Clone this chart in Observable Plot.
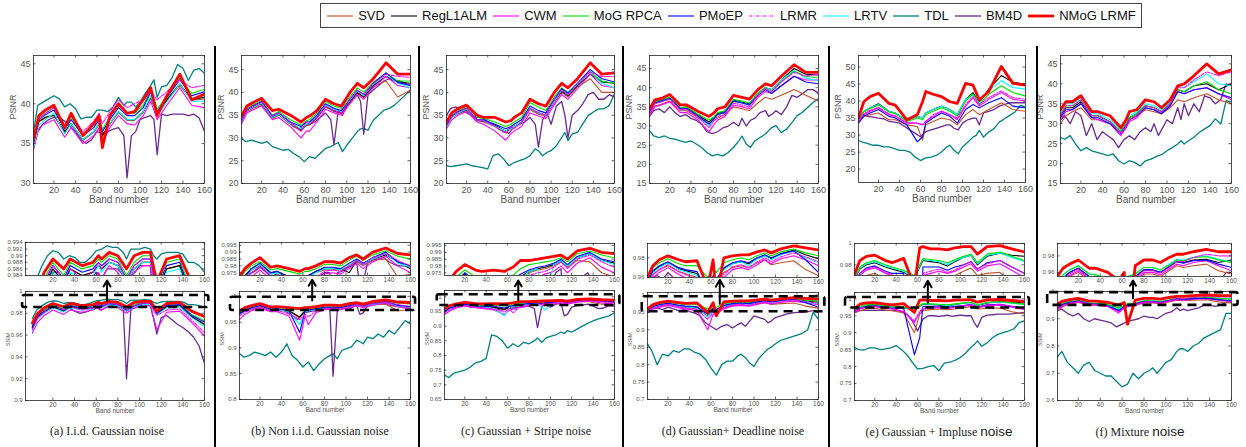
<!DOCTYPE html>
<html><head><meta charset="utf-8">
<script src="https://cdn.jsdelivr.net/npm/d3@7"></script>
<script src="https://cdn.jsdelivr.net/npm/@observablehq/plot@0.6"></script>
<style>
html,body{margin:0;padding:0;background:#fff;}
#root{position:relative;width:1246px;height:447px;overflow:hidden;background:#fff;font-family:"Liberation Sans",Arial,sans-serif;}
.sep{position:absolute;width:2px;background:#000;}
.cap{position:absolute;font-family:"Liberation Serif","DejaVu Serif",serif;font-size:12px;color:#222;white-space:nowrap;transform:translateX(-50%);}
.cap .big{font-family:"Liberation Sans",Arial,sans-serif;font-size:13.5px;}
#legend{position:absolute;border:1px solid #444;display:flex;justify-content:space-evenly;align-items:center;font-family:"Liberation Sans",Arial,sans-serif;font-size:13px;color:#111;}
#legend .it{display:flex;align-items:center;gap:4px;white-space:nowrap;}
</style></head>
<body><div id="root"><div id="legend"></div></div>
<script>
// ---------------- data ----------------
const bands = [1,6,12,20,30,36,47,57,62,65,72,80,88,95,103,110,116,125,137,148,160];
// TDL and BM4D are read at a denser set of bands (they are the most jagged curves)
const bandsDense = [1,5,10,15,20,25,30,35,40,45,50,55,60,65,70,75,80,85,88,92,96,100,105,110,113,116,120,125,130,135,140,145,150,155,160];
const methods = ["SVD","RegL1ALM","CWM","MoG RPCA","PMoEP","LRMR","LRTV","TDL","BM4D","NMoG LRMF"];
const captions = [["(a) I.i.d. Gaussian noise",""],["(b) Non i.i.d. Gaussian noise",""],["(c)  Gaussian + Stripe noise",""],["(d) Gaussian+ Deadline noise",""],["(e) Gaussian + Impluse ","noise"],["(f) Mixture ","noise"]];
const xTicks = [20,40,60,80,100,120,140,160];

// rows in method order: SVD, RegL1ALM, CWM, MoG RPCA, PMoEP, LRMR, LRTV, TDL*, BM4D*, NMoG LRMF   (* = bandsDense)
const psnrA = [
 [34.8,37.7,38.2,38.5,36.4,37.4,35.4,36.4,37.4,35.8,37.4,38.9,37.9,37.9,38.9,40.7,38.7,40.4,42.3,40.4,40.6],
 [34.8,37.8,38.3,38.6,36.5,37.5,35.5,36.5,37.5,36.0,37.5,39.0,38.0,38.0,39.0,40.8,38.8,40.5,42.5,40.5,40.8],
 [34.2,37.0,37.5,38.0,35.8,37.0,35.0,36.0,37.0,35.0,37.0,38.5,37.5,37.3,38.5,40.3,38.0,39.8,42.0,39.8,39.5],
 [35.2,38.2,38.8,39.5,37.0,38.3,36.2,37.3,38.3,36.8,38.3,39.8,38.8,38.8,39.8,41.7,39.3,41.0,43.2,41.3,41.8],
 [35.0,38.0,38.6,39.2,36.8,38.0,36.0,37.0,38.0,36.5,38.0,39.5,38.5,38.5,39.5,41.5,39.0,40.8,43.0,41.0,41.5],
 [35.0,38.0,38.8,39.5,37.3,38.5,36.5,37.8,38.8,37.5,39.0,40.5,39.5,40.0,40.5,41.5,40.5,41.5,43.0,42.0,42.3],
 [34.5,37.3,38.0,38.8,36.2,37.5,35.5,36.5,37.5,35.5,37.5,39.0,38.0,38.0,39.0,41.0,38.5,40.2,42.5,40.3,40.3],
 [36.5,39.8,40.2,40.6,41.0,40.6,39.6,40.0,39.4,38.1,38.3,38.3,39.2,39.2,39.0,39.6,40.8,39.8,40.2,40.2,39.6,40.2,41.3,42.3,43.0,40.8,42.1,42.3,43.3,44.9,44.4,42.9,44.2,44.4,43.8],
 [34.5,36.5,37.5,38.0,38.3,38.3,37.8,37.2,36.5,35.5,35.0,35.5,36.5,36.3,36.5,36.8,37.0,36.0,30.7,36.0,36.5,38.0,38.3,38.5,38.0,33.6,38.7,38.5,38.7,38.7,38.7,38.5,38.7,38.2,36.5],
 [35.5,38.5,39.2,39.8,37.0,38.8,36.0,37.5,38.5,34.5,38.5,40.0,38.8,39.0,40.5,42.0,38.5,41.0,43.7,40.5,41.2]];
const psnrB = [
 [33.5,35.8,36.5,37.2,34.2,35.0,33.0,31.5,32.8,32.8,34.3,36.8,35.8,35.3,37.8,39.8,38.8,41.3,42.5,39.0,40.5],
 [33.7,36.0,36.8,37.5,34.5,35.2,33.3,31.8,33.0,33.0,34.5,37.0,36.0,35.5,38.0,40.0,39.0,41.5,43.5,42.3,42.0],
 [33.0,35.5,36.2,37.0,34.0,34.5,32.5,30.0,31.5,31.5,33.5,36.3,35.5,35.0,37.5,39.5,38.5,41.0,43.5,41.5,41.0],
 [34.0,36.5,37.3,38.2,35.0,35.8,34.0,32.8,33.8,34.0,35.5,38.0,37.0,36.5,39.0,41.0,40.0,42.3,44.2,42.5,42.5],
 [33.8,36.2,37.0,38.0,34.8,35.5,33.5,32.5,33.5,33.5,35.0,37.5,36.5,36.0,38.5,40.5,39.5,42.0,44.3,42.2,41.5],
 [33.8,36.2,37.0,37.8,34.8,35.5,33.5,31.5,33.5,33.0,34.5,37.0,36.0,35.5,38.5,40.5,39.5,42.0,44.0,43.5,43.3],
 [33.5,36.0,36.8,37.6,34.5,35.2,33.2,32.0,33.0,33.2,34.8,37.2,36.3,35.8,38.3,40.3,39.3,41.8,44.0,42.0,41.0],
 [29.9,29.2,29.5,29.2,28.8,29.2,28.1,27.7,27.3,27.5,26.6,25.9,24.8,25.9,25.5,26.6,27.7,28.1,28.5,29.0,27.0,28.4,29.9,31.4,32.0,32.1,31.7,33.9,35.0,36.1,36.5,37.2,38.3,39.4,40.5],
 [34.0,36.0,37.0,37.3,37.5,36.0,34.5,35.3,34.5,33.5,32.5,32.0,32.5,33.0,33.5,34.5,35.5,34.0,28.5,36.0,35.0,37.0,38.5,39.5,38.0,30.8,39.5,40.5,41.5,42.5,43.0,42.5,42.5,42.0,41.5],
 [34.8,37.0,37.8,38.7,36.0,36.3,35.0,33.5,34.5,34.8,36.0,38.5,37.5,37.0,40.0,42.0,41.0,43.0,46.5,44.0,44.0]];
const psnrC = [
 [32.5,34.5,35.3,36.0,33.8,33.5,32.5,31.2,32.0,32.3,33.3,36.2,35.2,34.8,37.8,40.0,39.0,41.2,43.0,40.0,40.0],
 [32.8,34.7,35.5,36.2,34.0,33.7,32.8,31.5,32.2,32.5,33.5,36.5,35.5,35.0,38.0,40.2,39.3,41.5,44.0,42.3,42.0],
 [32.0,34.0,35.0,35.8,33.5,33.0,31.5,29.5,31.0,31.5,32.5,35.5,34.8,34.3,37.3,39.5,38.5,40.8,44.0,41.5,41.0],
 [33.0,35.0,36.0,36.8,34.5,34.3,33.5,32.5,33.0,33.5,34.5,37.8,36.8,36.0,39.0,41.0,40.0,42.0,44.5,42.5,42.0],
 [32.8,34.8,35.8,36.5,34.0,34.0,33.0,32.0,32.5,33.0,34.0,37.0,36.0,35.5,38.5,40.8,39.8,42.0,45.0,43.0,42.3],
 [33.0,34.8,35.7,36.5,34.0,33.8,32.5,31.0,32.5,32.0,33.5,36.5,35.5,35.0,38.3,40.5,39.5,42.0,44.5,43.5,43.5],
 [32.5,34.5,35.5,36.3,34.0,33.8,32.5,31.5,32.0,32.5,33.5,36.5,35.5,35.0,38.0,40.5,39.5,41.8,44.5,42.0,41.0],
 [23.9,23.7,23.9,24.1,24.3,23.9,23.7,23.5,23.2,26.1,26.5,25.4,23.9,24.6,25.0,25.4,26.1,27.6,27.2,26.1,26.8,27.2,28.3,30.1,31.2,29.4,30.9,31.2,33.1,34.9,35.7,36.4,36.4,37.1,39.7],
 [35.0,36.5,36.8,36.0,35.5,35.0,34.5,34.5,33.5,33.0,32.0,31.5,31.0,32.5,33.0,33.5,34.5,33.0,28.0,34.0,35.5,33.0,37.0,38.0,35.0,30.0,35.0,36.0,37.5,39.5,40.0,38.5,38.5,39.5,39.0],
 [33.5,35.5,36.5,37.2,35.0,34.5,34.5,33.5,33.8,34.5,35.5,38.5,37.5,37.0,40.0,42.0,41.0,43.0,46.5,44.0,44.3]];
const psnrD = [
 [33.0,35.2,35.7,36.5,34.0,34.0,32.0,30.5,31.5,32.0,33.0,35.0,34.5,34.0,36.0,37.5,37.0,38.0,39.5,38.0,36.5],
 [33.8,36.2,36.7,37.3,34.7,34.7,32.8,31.0,32.3,33.2,33.8,36.8,36.2,35.8,38.5,40.0,39.5,42.0,45.0,43.5,43.3],
 [32.8,35.0,35.5,36.3,33.5,33.5,31.5,28.5,30.5,31.5,32.5,35.5,35.0,34.5,37.5,39.0,38.5,40.5,43.0,42.0,42.0],
 [34.0,36.3,36.8,37.5,34.8,35.0,33.0,31.5,32.5,33.5,34.0,37.0,36.5,36.0,38.5,40.0,39.0,41.5,44.3,43.0,42.5],
 [33.5,36.0,36.5,37.2,34.5,34.5,32.5,30.5,32.0,33.0,33.5,36.5,36.0,35.5,38.0,39.5,38.5,40.5,43.0,41.5,41.0],
 [33.5,35.8,36.3,37.0,34.3,34.3,32.3,29.5,31.5,32.5,33.0,36.0,35.5,35.0,38.0,39.8,39.0,41.5,44.0,43.0,43.5],
 [33.5,36.0,36.5,37.2,34.5,34.5,32.5,30.0,32.0,33.0,33.5,36.5,36.0,35.5,38.5,40.0,39.5,42.0,44.5,42.5,41.8],
 [28.8,27.4,27.0,27.4,26.8,26.6,26.1,25.7,26.1,25.3,24.4,23.1,22.2,22.6,22.2,23.1,24.4,26.1,27.4,25.3,24.4,26.1,27.0,27.9,28.8,29.6,30.1,28.3,29.2,30.9,32.7,33.6,34.9,36.2,37.1],
 [32.5,34.0,34.5,33.5,35.0,33.5,32.5,33.0,32.0,31.5,30.5,28.5,28.0,28.5,29.5,30.0,31.0,30.0,32.0,30.0,31.5,32.0,33.5,34.0,32.5,33.0,34.0,33.0,35.0,38.0,37.5,38.5,39.5,39.5,38.5],
 [34.5,36.8,37.2,38.2,35.5,35.5,33.8,32.5,33.5,34.5,35.0,38.0,37.5,37.0,39.5,41.0,40.5,43.0,46.0,44.0,44.0]];
const psnrE = [
 [34.0,35.5,36.0,36.5,34.5,34.5,33.0,32.5,28.5,33.0,34.0,35.0,34.5,33.0,36.0,37.5,36.0,37.5,39.5,37.5,37.0],
 [34.5,37.0,38.0,39.2,37.0,36.5,34.3,35.5,35.0,36.5,37.5,38.5,37.5,36.0,40.5,42.5,39.5,43.5,47.5,45.5,45.0],
 [33.8,36.0,37.0,38.0,36.0,35.5,33.5,33.5,33.0,34.0,35.5,37.0,36.0,34.5,38.5,41.0,38.5,40.5,42.5,40.5,40.0],
 [34.3,36.8,37.8,38.8,36.8,36.3,34.0,35.0,34.5,36.0,37.0,38.0,37.0,35.5,40.0,42.0,39.0,42.0,44.5,42.5,41.5],
 [33.5,35.5,36.5,37.5,35.5,35.0,33.0,28.0,29.5,33.5,35.0,36.5,35.5,33.5,37.5,39.0,38.0,39.5,41.0,38.5,38.0],
 [34.0,36.3,37.3,38.2,36.2,35.7,33.7,33.5,33.0,34.0,36.0,37.0,36.0,35.0,39.0,41.3,39.0,41.0,43.0,41.0,40.5],
 [34.5,37.0,38.0,39.0,37.0,36.5,34.3,35.5,35.0,36.5,37.5,38.5,37.5,36.0,40.5,42.0,39.5,43.0,46.0,44.0,43.5],
 [28.4,27.9,27.5,27.0,27.0,26.5,26.5,26.0,25.5,25.5,25.0,23.5,22.5,23.3,23.5,24.0,25.0,26.5,27.0,25.5,24.5,26.5,27.9,29.4,29.9,31.4,29.4,30.9,31.9,33.8,34.8,35.8,36.8,38.7,38.2],
 [35.5,36.0,35.5,35.3,35.0,34.8,34.0,33.8,33.5,32.5,31.5,30.5,29.5,31.0,31.5,32.0,32.5,33.0,33.0,32.0,31.5,33.5,34.5,35.0,35.0,33.0,36.5,37.0,37.5,38.5,39.0,39.5,39.5,39.5,39.5],
 [35.0,39.8,41.3,42.3,39.3,38.8,34.5,36.0,39.8,42.8,42.0,41.3,39.8,39.3,45.2,44.7,40.3,42.8,50.2,45.2,44.7]];
const psnrF = [
 [30.0,32.0,33.0,34.0,31.0,31.0,30.0,27.5,29.0,31.0,32.0,33.5,33.0,32.5,34.0,36.0,35.5,36.5,37.5,36.0,35.0],
 [32.0,34.0,34.0,35.5,32.0,32.0,30.5,28.0,30.0,31.5,32.5,34.5,34.0,33.0,35.0,38.5,38.0,39.5,40.0,38.5,40.0],
 [31.0,33.0,33.5,35.0,31.5,31.0,30.0,27.0,29.0,30.5,31.5,34.0,33.5,32.5,34.5,38.0,37.5,38.5,39.0,37.5,36.0],
 [32.5,34.5,34.5,36.0,32.0,32.0,30.5,28.0,30.0,31.5,32.5,34.5,34.0,33.0,35.0,38.5,38.0,39.5,40.5,38.5,37.5],
 [31.5,33.5,33.5,35.0,31.5,31.5,30.0,27.5,29.5,31.0,32.0,34.0,33.5,32.5,34.5,38.0,37.5,38.5,39.0,37.5,36.5],
 [32.0,34.5,34.5,36.0,32.0,32.0,30.5,27.5,29.5,31.0,32.0,34.5,34.0,33.0,35.0,39.0,39.0,41.0,43.0,42.0,43.0],
 [33.0,35.0,35.0,36.5,32.5,32.5,31.0,28.5,30.5,32.0,33.0,35.0,34.5,33.5,35.5,39.5,39.0,40.5,42.5,40.0,39.5],
 [26.6,26.1,27.0,24.9,23.2,24.0,23.2,22.8,22.4,22.0,22.4,20.7,19.9,20.7,20.3,19.4,20.7,21.1,21.5,22.0,22.4,23.2,24.0,24.9,25.7,24.9,25.7,26.6,27.8,28.7,29.5,31.2,29.9,35.8,35.4],
 [31.0,32.0,30.0,33.0,32.0,27.0,30.0,26.0,28.0,27.0,26.0,24.0,26.0,27.0,26.0,28.0,29.0,28.0,30.0,27.0,29.0,31.0,30.0,34.0,31.0,35.0,32.0,35.0,33.0,37.0,36.5,35.0,36.0,40.0,39.5],
 [33.5,35.5,35.5,37.0,33.0,33.0,32.0,29.0,31.0,33.0,33.5,36.0,35.5,34.0,36.0,39.5,40.0,42.0,45.0,42.5,43.5]];

const ssimA = [
 [0.966,0.976,0.981,0.986,0.982,0.986,0.984,0.985,0.987,0.986,0.988,0.987,0.982,0.986,0.988,0.988,0.979,0.986,0.987,0.977,0.969],
 [0.967,0.977,0.981,0.986,0.982,0.986,0.984,0.985,0.987,0.986,0.988,0.987,0.982,0.986,0.988,0.988,0.979,0.986,0.987,0.977,0.970],
 [0.962,0.972,0.978,0.983,0.979,0.983,0.981,0.983,0.985,0.983,0.987,0.985,0.980,0.985,0.987,0.987,0.965,0.981,0.982,0.972,0.959],
 [0.969,0.979,0.983,0.988,0.984,0.988,0.986,0.987,0.989,0.988,0.990,0.989,0.984,0.988,0.990,0.990,0.981,0.988,0.989,0.979,0.973],
 [0.968,0.978,0.982,0.987,0.983,0.987,0.985,0.986,0.988,0.987,0.989,0.988,0.983,0.987,0.989,0.989,0.980,0.987,0.988,0.978,0.972],
 [0.965,0.976,0.981,0.987,0.983,0.986,0.983,0.985,0.988,0.986,0.989,0.988,0.983,0.987,0.989,0.989,0.978,0.983,0.984,0.974,0.962],
 [0.964,0.975,0.980,0.985,0.981,0.985,0.983,0.984,0.987,0.985,0.988,0.987,0.982,0.986,0.988,0.988,0.979,0.985,0.986,0.976,0.968],
 [0.975,0.983,0.987,0.990,0.9915,0.991,0.989,0.990,0.9895,0.988,0.988,0.9895,0.9915,0.992,0.993,0.9925,0.9925,0.991,0.989,0.992,0.992,0.992,0.9925,0.992,0.990,0.989,0.9905,0.991,0.991,0.991,0.9905,0.988,0.988,0.987,0.985],
 [0.967,0.976,0.980,0.983,0.985,0.985,0.983,0.985,0.982,0.980,0.981,0.983,0.985,0.983,0.986,0.986,0.986,0.984,0.920,0.984,0.985,0.987,0.987,0.987,0.975,0.961,0.976,0.978,0.974,0.970,0.967,0.963,0.958,0.950,0.934],
 [0.971,0.980,0.985,0.989,0.986,0.989,0.987,0.988,0.990,0.989,0.991,0.990,0.986,0.990,0.991,0.991,0.982,0.989,0.990,0.982,0.977]];
const ssimB = [
 [0.966,0.972,0.977,0.980,0.974,0.975,0.971,0.958,0.971,0.972,0.975,0.977,0.977,0.977,0.980,0.983,0.980,0.984,0.985,0.972,0.974],
 [0.967,0.973,0.978,0.981,0.975,0.976,0.972,0.960,0.972,0.973,0.976,0.978,0.978,0.978,0.975,0.984,0.981,0.985,0.988,0.983,0.978],
 [0.955,0.965,0.972,0.977,0.970,0.970,0.962,0.915,0.962,0.945,0.968,0.974,0.975,0.974,0.978,0.982,0.978,0.983,0.987,0.980,0.975],
 [0.970,0.976,0.980,0.983,0.977,0.978,0.976,0.974,0.976,0.976,0.978,0.981,0.981,0.980,0.984,0.987,0.984,0.988,0.991,0.987,0.985],
 [0.966,0.972,0.978,0.982,0.975,0.976,0.972,0.930,0.972,0.973,0.976,0.979,0.979,0.978,0.982,0.985,0.982,0.986,0.990,0.983,0.980],
 [0.962,0.969,0.975,0.980,0.973,0.973,0.966,0.955,0.965,0.960,0.972,0.976,0.977,0.976,0.980,0.984,0.981,0.986,0.989,0.984,0.980],
 [0.965,0.971,0.977,0.981,0.974,0.975,0.970,0.945,0.970,0.972,0.975,0.978,0.978,0.977,0.981,0.984,0.981,0.985,0.989,0.982,0.979],
 [0.889,0.882,0.885,0.892,0.889,0.885,0.892,0.882,0.892,0.908,0.885,0.876,0.863,0.873,0.856,0.869,0.879,0.885,0.889,0.879,0.895,0.898,0.902,0.915,0.912,0.908,0.921,0.918,0.927,0.921,0.934,0.927,0.940,0.953,0.947],
 [0.968,0.971,0.974,0.976,0.979,0.976,0.972,0.974,0.974,0.970,0.962,0.955,0.968,0.970,0.972,0.972,0.975,0.975,0.845,0.975,0.976,0.978,0.980,0.982,0.965,0.968,0.982,0.984,0.985,0.986,0.983,0.981,0.980,0.980,0.978],
 [0.972,0.978,0.982,0.986,0.979,0.980,0.978,0.976,0.978,0.978,0.980,0.983,0.983,0.982,0.986,0.988,0.985,0.990,0.993,0.989,0.988]];
const ssimC = [
 [0.949,0.960,0.967,0.973,0.967,0.966,0.964,0.956,0.965,0.967,0.971,0.975,0.977,0.978,0.980,0.983,0.979,0.984,0.983,0.975,0.972],
 [0.950,0.961,0.968,0.974,0.968,0.967,0.965,0.958,0.966,0.968,0.972,0.976,0.978,0.979,0.981,0.984,0.980,0.986,0.989,0.984,0.982],
 [0.940,0.952,0.962,0.969,0.963,0.960,0.955,0.940,0.955,0.958,0.965,0.970,0.972,0.974,0.976,0.980,0.975,0.982,0.986,0.979,0.975],
 [0.955,0.966,0.972,0.977,0.972,0.971,0.972,0.970,0.972,0.973,0.978,0.981,0.982,0.983,0.984,0.986,0.983,0.989,0.991,0.988,0.986],
 [0.950,0.962,0.969,0.975,0.969,0.968,0.968,0.962,0.968,0.970,0.974,0.977,0.979,0.980,0.982,0.985,0.981,0.987,0.990,0.985,0.983],
 [0.946,0.957,0.965,0.971,0.965,0.963,0.958,0.948,0.960,0.945,0.968,0.973,0.975,0.976,0.979,0.983,0.978,0.985,0.988,0.983,0.979],
 [0.948,0.960,0.967,0.973,0.967,0.966,0.960,0.935,0.965,0.968,0.970,0.976,0.978,0.955,0.981,0.984,0.980,0.986,0.989,0.984,0.981],
 [0.733,0.725,0.740,0.745,0.750,0.760,0.775,0.780,0.790,0.870,0.865,0.850,0.825,0.840,0.830,0.845,0.840,0.850,0.860,0.845,0.860,0.865,0.870,0.880,0.875,0.885,0.880,0.890,0.900,0.910,0.918,0.925,0.930,0.935,0.946],
 [0.960,0.968,0.970,0.968,0.972,0.965,0.968,0.962,0.965,0.960,0.958,0.955,0.960,0.962,0.964,0.966,0.968,0.960,0.895,0.968,0.972,0.965,0.975,0.978,0.935,0.940,0.965,0.970,0.972,0.975,0.968,0.960,0.962,0.970,0.968],
 [0.960,0.970,0.976,0.981,0.977,0.976,0.977,0.976,0.978,0.979,0.984,0.984,0.985,0.986,0.987,0.988,0.985,0.991,0.993,0.990,0.989]];
const ssimD = [
 [0.952,0.963,0.968,0.972,0.966,0.964,0.960,0.940,0.955,0.955,0.965,0.970,0.972,0.970,0.975,0.978,0.973,0.975,0.977,0.968,0.962],
 [0.955,0.966,0.971,0.975,0.969,0.967,0.964,0.945,0.960,0.958,0.969,0.974,0.976,0.974,0.979,0.982,0.979,0.984,0.988,0.983,0.979],
 [0.948,0.960,0.965,0.970,0.963,0.960,0.955,0.900,0.945,0.945,0.960,0.968,0.970,0.968,0.973,0.978,0.974,0.979,0.982,0.978,0.972],
 [0.958,0.970,0.975,0.979,0.974,0.972,0.972,0.960,0.970,0.965,0.975,0.978,0.980,0.978,0.982,0.985,0.982,0.986,0.989,0.985,0.982],
 [0.955,0.967,0.972,0.976,0.970,0.968,0.966,0.945,0.962,0.958,0.970,0.975,0.977,0.975,0.980,0.983,0.980,0.984,0.987,0.978,0.965],
 [0.952,0.963,0.968,0.973,0.966,0.963,0.958,0.930,0.950,0.950,0.963,0.971,0.973,0.970,0.976,0.980,0.976,0.981,0.985,0.981,0.976],
 [0.953,0.965,0.970,0.975,0.968,0.966,0.962,0.935,0.955,0.955,0.968,0.974,0.976,0.972,0.979,0.982,0.978,0.983,0.987,0.980,0.975],
 [0.860,0.840,0.800,0.830,0.825,0.840,0.835,0.845,0.845,0.835,0.830,0.815,0.790,0.770,0.800,0.810,0.810,0.825,0.830,0.820,0.805,0.795,0.820,0.836,0.845,0.850,0.860,0.870,0.875,0.880,0.885,0.890,0.900,0.950,0.930],
 [0.955,0.960,0.962,0.958,0.965,0.960,0.955,0.958,0.952,0.948,0.940,0.920,0.910,0.900,0.910,0.915,0.905,0.915,0.920,0.910,0.925,0.940,0.935,0.930,0.920,0.925,0.935,0.940,0.945,0.948,0.950,0.950,0.952,0.955,0.955],
 [0.960,0.972,0.978,0.982,0.978,0.976,0.977,0.950,0.978,0.940,0.980,0.982,0.983,0.983,0.986,0.988,0.985,0.989,0.992,0.990,0.988]];
const ssimE = [
 [0.958,0.965,0.970,0.972,0.967,0.965,0.958,0.900,0.955,0.965,0.968,0.970,0.968,0.970,0.974,0.977,0.970,0.972,0.973,0.962,0.955],
 [0.966,0.976,0.980,0.982,0.978,0.976,0.973,0.967,0.978,0.984,0.983,0.982,0.979,0.983,0.987,0.989,0.980,0.988,0.991,0.989,0.988],
 [0.960,0.970,0.975,0.977,0.972,0.970,0.962,0.930,0.960,0.970,0.972,0.974,0.972,0.974,0.978,0.981,0.974,0.979,0.981,0.975,0.968],
 [0.968,0.978,0.982,0.984,0.980,0.978,0.975,0.970,0.980,0.986,0.985,0.984,0.982,0.985,0.988,0.990,0.982,0.990,0.992,0.988,0.984],
 [0.962,0.972,0.977,0.979,0.974,0.972,0.972,0.835,0.885,0.978,0.978,0.978,0.975,0.978,0.980,0.983,0.976,0.982,0.984,0.978,0.972],
 [0.962,0.972,0.976,0.978,0.973,0.971,0.963,0.935,0.962,0.972,0.974,0.976,0.973,0.975,0.980,0.983,0.976,0.981,0.984,0.978,0.972],
 [0.967,0.977,0.981,0.983,0.979,0.977,0.974,0.968,0.979,0.985,0.984,0.983,0.980,0.984,0.987,0.989,0.981,0.989,0.991,0.987,0.983],
 [0.857,0.850,0.849,0.855,0.855,0.850,0.852,0.855,0.862,0.850,0.835,0.813,0.793,0.795,0.800,0.803,0.788,0.810,0.812,0.815,0.820,0.827,0.840,0.857,0.865,0.876,0.860,0.870,0.885,0.895,0.900,0.905,0.911,0.930,0.935],
 [0.962,0.965,0.966,0.966,0.966,0.966,0.966,0.966,0.966,0.962,0.955,0.935,0.905,0.940,0.950,0.950,0.948,0.950,0.952,0.948,0.950,0.952,0.950,0.950,0.930,0.916,0.945,0.952,0.953,0.955,0.955,0.955,0.956,0.958,0.960],
 [0.971,0.984,0.988,0.989,0.984,0.982,0.986,0.960,0.996,0.997,0.995,0.995,0.994,0.996,0.997,0.997,0.990,0.997,0.998,0.995,0.992]];
const ssimF = [
 [0.930,0.945,0.955,0.960,0.950,0.950,0.945,0.930,0.940,0.945,0.950,0.958,0.958,0.955,0.962,0.968,0.966,0.968,0.970,0.962,0.958],
 [0.940,0.952,0.960,0.965,0.955,0.955,0.950,0.935,0.945,0.950,0.955,0.963,0.963,0.960,0.967,0.973,0.972,0.975,0.976,0.972,0.975],
 [0.935,0.948,0.956,0.962,0.952,0.950,0.945,0.925,0.940,0.945,0.950,0.960,0.960,0.957,0.964,0.970,0.968,0.972,0.974,0.968,0.962],
 [0.945,0.957,0.963,0.968,0.958,0.957,0.952,0.940,0.950,0.955,0.958,0.966,0.966,0.963,0.969,0.975,0.974,0.978,0.979,0.975,0.972],
 [0.940,0.953,0.960,0.965,0.955,0.954,0.948,0.930,0.945,0.950,0.955,0.963,0.963,0.960,0.967,0.973,0.971,0.974,0.975,0.970,0.966],
 [0.938,0.950,0.958,0.964,0.953,0.952,0.946,0.920,0.940,0.948,0.953,0.962,0.962,0.959,0.966,0.973,0.973,0.978,0.982,0.980,0.980],
 [0.945,0.957,0.963,0.968,0.958,0.957,0.950,0.935,0.948,0.955,0.958,0.966,0.966,0.963,0.970,0.976,0.975,0.978,0.980,0.976,0.973],
 [0.760,0.780,0.740,0.720,0.700,0.730,0.740,0.710,0.700,0.690,0.690,0.670,0.650,0.660,0.700,0.680,0.700,0.710,0.720,0.700,0.720,0.740,0.750,0.780,0.790,0.790,0.780,0.800,0.810,0.830,0.840,0.850,0.860,0.920,0.920],
 [0.930,0.935,0.920,0.910,0.920,0.900,0.890,0.900,0.895,0.890,0.885,0.870,0.880,0.890,0.895,0.900,0.910,0.905,0.905,0.900,0.910,0.920,0.925,0.940,0.930,0.935,0.930,0.935,0.940,0.950,0.950,0.945,0.950,0.960,0.960],
 [0.955,0.965,0.970,0.975,0.965,0.965,0.960,0.950,0.960,0.880,0.968,0.975,0.975,0.972,0.978,0.982,0.982,0.985,0.988,0.985,0.985]];

// ---------------- styles ----------------
const colors = ["#c0502a","#000000","#ff00ff","#00e000","#0000ff","#ff00ff","#00ffff","#008080","#6a2a90","#ff0000"];
const widths = [1.1,1.1,1.1,1.1,1.1,1.1,1.1,1.3,1.3,2.8];
const dashes = [null,null,null,null,null,"3,1.5,1,1.5",null,null,null,null];
const drawOrder = [7,8,0,1,2,6,3,4,5,9];
const sampling = methods.map(m => (m === "TDL" || m === "BM4D") ? bandsDense : bands);

// ---------------- layout (pixels) ----------------
const layout = [
 {psnr:[33,204,55,183], pd:[30,46.04], pt:[30,35,40,45],
  ssim:[25,204,291,400], sd:[0.9,1], st:[0.9,0.92,0.94,0.96,0.98,1],
  ins:[25,204,242,275], id:[0.984,0.994], it:[0.984,0.986,0.988,0.99,0.992,0.994], sx:[-5.3,160],
  box:{x1:-8,x2:164,y1:0.9853,y2:0.9963}, arr:{x:70,y1:0.991,y2:1.0101}, cap:107},
 {psnr:[241,410,55,183], pd:[20,48.1], pt:[20,25,30,35,40,45],
  ssim:[239,410,291,399], sd:[0.8,1.0094], st:[0.8,0.85,0.9,0.95,1],
  ins:[239,410,242,275], id:[0.973,0.997], it:[0.975,0.98,0.985,0.99,0.995],
  box:{x1:-7.4,x2:164.7,y1:0.9726,y2:0.9983}, arr:{x:68.6,y1:0.992,y2:1.032}, cap:320},
 {psnr:[446,614,55,183], pd:[20,48.1], pt:[20,25,30,35,40,45],
  ssim:[444,614,290,399], sd:[0.65,1.0216], st:[0.65,0.7,0.75,0.8,0.85,0.9,0.95,1],
  ins:[444,614,243,275], id:[0.973,0.9965], it:[0.975,0.98,0.985,0.99,0.995],
  box:{x1:-5.8,x2:165,y1:0.9705,y2:1.007}, arr:{x:70,y1:0.988,y2:1.0557}, cap:526},
 {psnr:[649,818,55,183], pd:[15,48.4], pt:[15,20,25,30,35,40,45],
  ssim:[647,818,292,399], sd:[0.7,1.007], st:[0.7,0.75,0.8,0.85,0.9,0.95,1],
  ins:[647,818,243,277], id:[0.96,0.9945], it:[0.96,0.98],
  box:{x1:-3.9,x2:165.9,y1:0.9518,y2:0.9947}, arr:{x:68.2,y1:0.975,y2:1.0433}, cap:733},
 {psnr:[858,1025,55,182], pd:[16.05,53.4], pt:[20,25,30,35,40,45,50],
  ssim:[854,1024,292,400], sd:[0.7,1.0186], st:[0.7,0.75,0.8,0.85,0.9,0.95,1],
  ins:[854,1024,243,275], id:[0.97,1.0], it:[0.98,1],
  box:{x1:-7.4,x2:164.7,y1:0.9727,y2:1.0039}, arr:{x:69.6,y1:0.988,y2:1.053}, cap:939},
 {psnr:[1060,1231,55,183], pd:[15,47.1], pt:[15,20,25,30,35,40,45],
  ssim:[1057,1231,291,400], sd:[0.6,1.0], st:[0.6,0.7,0.8,0.9,1],
  ins:[1057,1231,243,276], id:[0.955,0.995], it:[0.96,0.98],
  box:{x1:-8,x2:166,y1:0.949,y2:0.996}, arr:{x:70,y1:0.975,y2:1.04}, cap:1140}
];
const psnrSets = [psnrA,psnrB,psnrC,psnrD,psnrE,psnrF];
const ssimSets = [ssimA,ssimB,ssimC,ssimD,ssimE,ssimF];
const separators = [214,418,622,828,1036];

const root = document.getElementById("root");
const fmt = d => String(+d.toFixed(4));

function makePlot(series, frame, yDomain, yTicks, o) {
  const [l, r, t, b] = frame;
  const xd = o.xd || [1, 160];
  const mL = 34, mR = 8, mT = 8, mB = o.mB;
  const w = r - l, h = b - t;
  const marks = [];
  for (const i of drawOrder) {
    const bx = sampling[i];
    const rows = bx.map((band, j) => ({band, v: series[i][j]}));
    marks.push(Plot.line(rows, {x: "band", y: "v", stroke: colors[i], strokeWidth: widths[i],
      strokeDasharray: dashes[i] || undefined, clip: true, strokeLinejoin: "round"}));
  }
  const ty = (yDomain[1] - yDomain[0]) * 2.5 / h, tx = (xd[1] - xd[0]) * 2.5 / w;
  marks.push(Plot.ruleX(xTicks, {x: d => d, y1: yDomain[0], y2: yDomain[0] + ty, stroke: "#222", strokeWidth: 0.7}));
  marks.push(Plot.ruleX(xTicks, {x: d => d, y1: yDomain[1] - ty, y2: yDomain[1], stroke: "#222", strokeWidth: 0.7}));
  marks.push(Plot.ruleY(yTicks, {y: d => d, x1: xd[0], x2: xd[0] + tx, stroke: "#222", strokeWidth: 0.7}));
  marks.push(Plot.ruleY(yTicks, {y: d => d, x1: xd[1] - tx, x2: xd[1], stroke: "#222", strokeWidth: 0.7}));
  marks.push(Plot.frame({stroke: "#222", strokeWidth: 0.8}));
  marks.push(Plot.axisX({ticks: xTicks, tickSize: 0, tickPadding: o.xPad, fontSize: o.fx, fill: "#555", label: null}));
  marks.push(Plot.axisY({ticks: yTicks, tickSize: 0, tickPadding: 3, fontSize: o.fy, fill: "#555", label: null, tickFormat: o.yFmt || (d => String(d))}));
  if (o.ylab) marks.push(Plot.text([o.ylab], {frameAnchor: "left", rotate: -90, dx: o.ylabDx, fontSize: o.ylabSize, fill: "#555"}));
  if (o.xlab) marks.push(Plot.text([o.xlab], {frameAnchor: "bottom", dy: o.xlabDy, fontSize: o.xlabSize, fill: "#555"}));
  if (o.extra) marks.push(...o.extra);
  const svg = Plot.plot({
    width: w + mL + mR, height: h + mT + mB,
    marginLeft: mL, marginRight: mR, marginTop: mT, marginBottom: mB,
    x: {domain: xd}, y: {domain: yDomain},
    style: {overflow: "visible", background: "transparent", fontFamily: "'Liberation Sans', Arial, sans-serif"},
    marks
  });
  svg.style.position = "absolute";
  svg.style.left = (l - mL) + "px";
  svg.style.top = (t - mT) + "px";
  root.appendChild(svg);
}

layout.forEach((L, p) => {
  makePlot(psnrSets[p], L.psnr, L.pd, L.pt, {mB: 30, xPad: 3, fx: 9, fy: 9,
    ylab: "PSNR", ylabDx: -20, ylabSize: 9, xlab: "Band number", xlabDy: 19, xlabSize: 10});
  makePlot(ssimSets[p], L.ins, L.id, L.it, {mB: 14, xPad: 2, fx: 6.5, fy: 6, yFmt: fmt, xd: L.sx});
  makePlot(ssimSets[p], L.ssim, L.sd, L.st, {mB: 22, xPad: 2, fx: 6.5, fy: 6, yFmt: fmt, xd: L.sx,
    ylab: "SSIM", ylabDx: -17, ylabSize: 5.5, xlab: "Band number", xlabDy: 12, xlabSize: 6.5,
    extra: [
      Plot.rect([L.box], {x1: "x1", x2: "x2", y1: "y1", y2: "y2", fill: "none", stroke: "#000", strokeWidth: 2.6, strokeDasharray: "9,6", rx: 2}),
      Plot.arrow([L.arr], {x1: "x", x2: "x", y1: "y1", y2: "y2", stroke: "#000", strokeWidth: 2, headLength: 7})
    ]});
  const c = document.createElement("div");
  c.className = "cap";
  c.appendChild(document.createTextNode(captions[p][0]));
  if (captions[p][1]) { const s = document.createElement("span"); s.className = "big"; s.textContent = captions[p][1]; c.appendChild(s); }
  c.style.left = L.cap + "px"; c.style.top = "424px";
  root.appendChild(c);
});

separators.forEach(x => {
  const d = document.createElement("div");
  d.className = "sep"; d.style.left = x + "px"; d.style.top = "46px"; d.style.height = "401px";
  root.appendChild(d);
});

const lg = document.getElementById("legend");
Object.assign(lg.style, {left: "320px", top: "3px", width: "820px", height: "23px"});
methods.forEach((m, i) => {
  const it = document.createElement("div"); it.className = "it";
  const s = document.createElementNS("http://www.w3.org/2000/svg", "svg");
  s.setAttribute("width", 28); s.setAttribute("height", 8);
  const ln = document.createElementNS("http://www.w3.org/2000/svg", "line");
  ln.setAttribute("x1", 1); ln.setAttribute("x2", 27); ln.setAttribute("y1", 4); ln.setAttribute("y2", 4);
  ln.setAttribute("stroke", colors[i]); ln.setAttribute("stroke-width", widths[i]);
  if (dashes[i]) ln.setAttribute("stroke-dasharray", dashes[i]);
  s.appendChild(ln); it.appendChild(s);
  const t = document.createElement("span"); t.textContent = m; it.appendChild(t);
  lg.appendChild(it);
});
</script>
</body></html>
